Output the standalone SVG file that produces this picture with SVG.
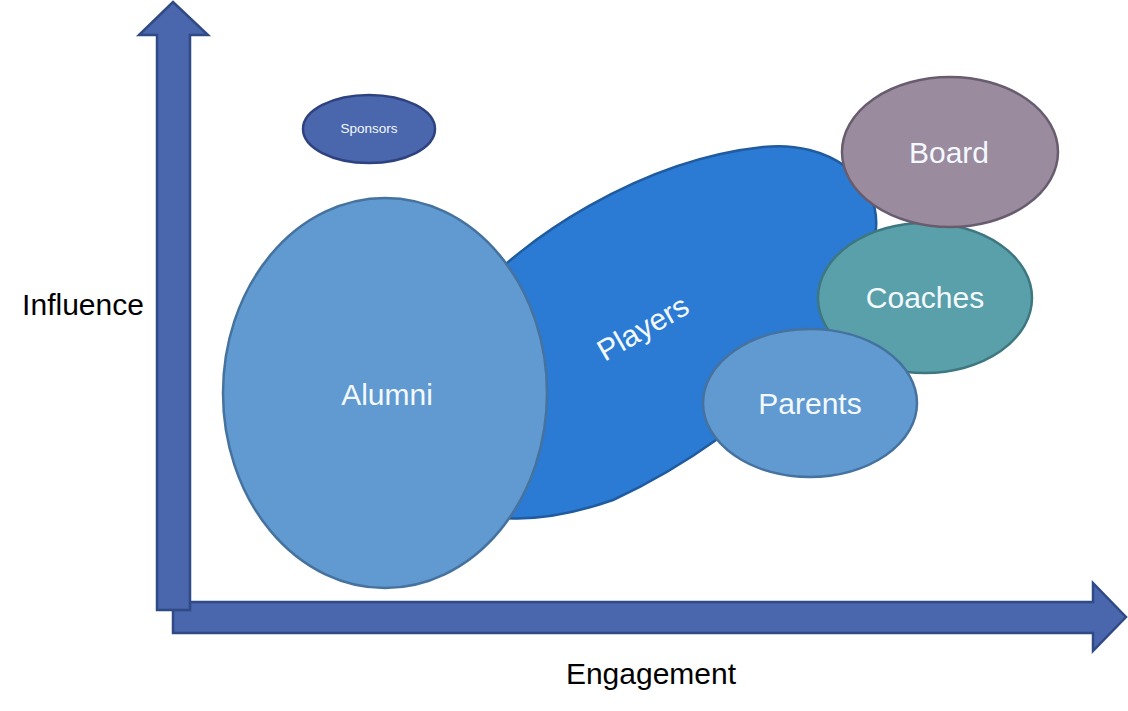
<svg xmlns="http://www.w3.org/2000/svg" width="1128" height="711" viewBox="0 0 1128 711">
<style>
.axis{fill:#4A66AC;stroke:#2F4A85;stroke-width:2.5;stroke-linejoin:miter}
.lbl{font-family:"Liberation Sans",Arial,sans-serif;font-size:30px;fill:#000;text-anchor:middle}
.nt{font-family:"Liberation Sans",Arial,sans-serif;font-size:30px;fill:#F4F9FF;text-anchor:middle}
.lb{fill:#609AD0;stroke:#45729E;stroke-width:2.5}
</style>
<rect width="1128" height="711" fill="#fff"/>
<g id="connectors">
<polygon id="x-axis" class="axis" points="173,602 1093,602 1093,583 1126,617 1093,651 1093,633 173,633"/>
<polygon id="y-axis" class="axis" points="157,610 157,35 139,35 173,2 208,35 190,35 190,610"/>
</g>
<g id="players">
<path d="M470,300 C520,240 640,160 763,147 C830,140 880,180 876,228 C872,290 835,335 795,375 C760,410 690,465 613,500 C570,515 535,520 505,518 C460,515 440,360 470,300 Z" fill="#2B7BD4" stroke="#1F5B9E" stroke-width="2.5"/>
<text class="nt" x="648" y="337" transform="rotate(-30 648 337)">Players</text>
</g>
<g id="alumni">
<ellipse class="lb" cx="385" cy="393" rx="162" ry="195"/>
<text class="nt" x="387" y="405">Alumni</text>
</g>
<g id="coaches">
<ellipse cx="925" cy="298" rx="107" ry="75" fill="#5AA0AA" stroke="#3E7780" stroke-width="2.5"/>
<text class="nt" x="925" y="308">Coaches</text>
</g>
<g id="board">
<ellipse cx="950" cy="152" rx="108" ry="75" fill="#9A8C9E" stroke="#685C6E" stroke-width="2.5"/>
<text class="nt" x="949" y="163">Board</text>
</g>
<g id="parents">
<ellipse class="lb" cx="810" cy="403" rx="107" ry="74"/>
<text class="nt" x="810" y="414">Parents</text>
</g>
<g id="sponsors">
<ellipse cx="369" cy="129" rx="66" ry="34" fill="#4A66AC" stroke="#2F4280" stroke-width="2.5"/>
<text class="nt" x="369" y="133" style="font-size:13.5px">Sponsors</text>
</g>
<text class="lbl" x="83" y="315">Influence</text>
<text class="lbl" x="651" y="684">Engagement</text>
</svg>
